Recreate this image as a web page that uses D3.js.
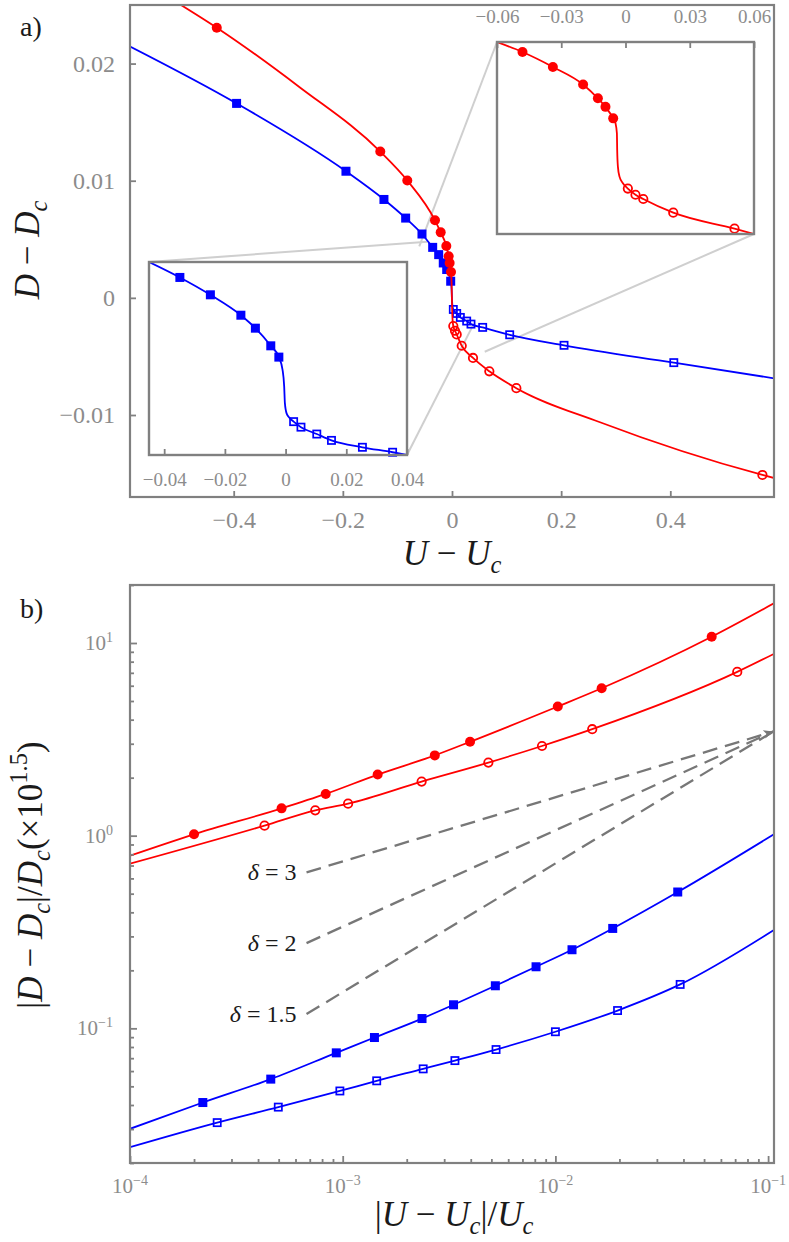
<!DOCTYPE html>
<html lang="en">
<head>
<meta charset="utf-8">
<title>D - Dc against U - Uc</title>
<script src="https://cdnjs.cloudflare.com/ajax/libs/d3/7.8.5/d3.min.js"></script>
<style>
  html, body { margin: 0; padding: 0; background: #fff; }
  svg { display: block; }
  svg text { font-family: "Liberation Serif", "DejaVu Serif", "Times New Roman", Times, serif; }
</style>
</head>
<body>
<div id="chart"></div>
<script>
// ---------- panel a) : D - Dc against U - Uc ----------
var aXDomain = [-0.59, 0.59];
var aYDomain = [-0.017, 0.025];
var aXTicks = [-0.4, -0.2, 0, 0.2, 0.4];
var aYTicks = [-0.01, 0, 0.01, 0.02];

var aRedFilled = [[-0.431, 0.02306], [-0.1314, 0.01249], [-0.0819, 0.01002], [-0.0312, 0.00662],
                  [-0.0207, 0.00559], [-0.0104, 0.00443], [-0.0061, 0.00355], [-0.0043, 0.00298], [-0.0018, 0.00221]];
var aRedOpen = [[0.0024, -0.00241], [0.0055, -0.00281], [0.0086, -0.00312], [0.0178, -0.00409],
                [0.0385, -0.00513], [0.0684, -0.00627], [0.1179, -0.00771], [0.5688, -0.01512]];
var aRedFitExtra = [[-0.50, 0.0251], [-0.2786, 0.01796], [-0.0008, 0.0013], [0.0002, -0.0009],
                    [0.0011, -0.0019], [0.27, -0.0106], [0.60, -0.0155]];

var aBlueFilled = [[-0.3947, 0.0166], [-0.1943, 0.01081], [-0.1247, 0.0084], [-0.0849, 0.00681], [-0.055, 0.00545],
                   [-0.0354, 0.00431], [-0.0244, 0.00369], [-0.016, 0.00298], [-0.0097, 0.00242], [-0.0024, 0.00142]];
var aBlueOpen = [[0.0024, -0.00099], [0.0086, -0.00133], [0.0153, -0.00167], [0.0269, -0.00198], [0.0348, -0.00224],
                 [0.0562, -0.00252], [0.1057, -0.00315], [0.2053, -0.00405], [0.4064, -0.00553]];
var aBlueFitExtra = [[-0.60, 0.0217], [-0.0009, 0.0009], [0.0001, -0.0003], [0.0012, -0.0008], [0.60, -0.00694]];

// inset (top right), red branch near the transition
var insRedXDomain = [-0.06, 0.06];
var insRedYDomain = [-0.0046, 0.0044];
var insRedTicks = [-0.06, -0.03, 0, 0.03, 0.06];
var insRedFilled = [[-0.0481, 0.00393], [-0.0339, 0.00323], [-0.0198, 0.00241], [-0.0129, 0.00176],
                    [-0.00935, 0.00136], [-0.00575, 0.00082]];
var insRedOpen = [[0.0011, -0.00247], [0.00467, -0.00276], [0.0083, -0.00296], [0.0223, -0.0036], [0.0509, -0.00435]];
var insRedFitExtra = [[-0.06, 0.0044], [-0.00467, 0.00059], [-0.00402, 0.00012], [-0.00388, -0.00066],
                      [-0.00355, -0.00144], [-0.0028, -0.00191], [-0.00121, -0.00222], [0.06, -0.0046]];

// inset (bottom left), blue branch near the transition
var insBlueXDomain = [-0.045, 0.04];
var insBlueYDomain = [-0.0022, 0.0048];
var insBlueTicks = [-0.04, -0.02, 0, 0.02, 0.04];
var insBlueFilled = [[-0.03483, 0.00424], [-0.02478, 0.00361], [-0.01473, 0.00287], [-0.00995, 0.0024],
                     [-0.00488, 0.00176], [-0.00222, 0.00135]];
var insBlueOpen = [[0.00265, -0.00099], [0.00507, -0.00119], [0.01028, -0.00144], [0.01512, -0.00167],
                   [0.02531, -0.00192], [0.03526, -0.0021]];
var insBlueFitExtra = [[-0.045, 0.0048], [-0.001, 0.00089], [-0.00046, 0.00028], [-0.00023, -0.00032],
                       [0.00033, -0.00069], [0.00143, -0.00087], [0.04, -0.0022]];

// ---------- panel b) : log-log ----------
var bXDomain = [1e-4, 0.1066];
var bYDomain = [0.02, 20];
var bRedFilled = [[2.0e-4, 1.016], [5.16e-4, 1.386], [8.32e-4, 1.647], [1.46e-3, 2.075], [2.71e-3, 2.61],
                  [3.97e-3, 3.07], [1.026e-2, 4.68], [1.65e-2, 5.82], [5.43e-2, 10.77]];
var bRedOpen = [[4.29e-4, 1.127], [7.43e-4, 1.353], [1.06e-3, 1.466], [2.35e-3, 1.908], [4.84e-3, 2.394],
                [8.65e-3, 2.92], [1.49e-2, 3.57], [7.16e-2, 7.08]];
var bBlueFilled = [[2.2e-4, 0.0412], [4.59e-4, 0.0545], [9.33e-4, 0.0746], [1.41e-3, 0.0896], [2.36e-3, 0.1124],
                   [3.32e-3, 0.1325], [5.22e-3, 0.1663], [8.11e-3, 0.2087], [1.197e-2, 0.2558], [1.86e-2, 0.330], [3.76e-2, 0.510]];
var bBlueOpen = [[2.57e-4, 0.0324], [4.98e-4, 0.039], [9.7e-4, 0.0473], [1.445e-3, 0.0534], [2.39e-3, 0.0616],
                 [3.37e-3, 0.068], [5.26e-3, 0.0776], [1.0e-2, 0.096], [1.96e-2, 0.1237], [3.86e-2, 0.169]];
var bRedFilledEnds = [[1e-4, 0.787], [0.107, 16.1]];
var bRedOpenEnds = [[1e-4, 0.715], [0.107, 8.8]];
var bBlueFilledEnds = [[1e-4, 0.0301], [0.107, 1.02]];
var bBlueOpenEnds = [[1e-4, 0.02415], [0.107, 0.325]];

// dashed guides, slope 1/delta
var deltas = [3, 2, 1.5];
var guideStartX = 6.76e-4;
var guideStartY = [0.645, 0.277, 0.1186];
var guideEnd = [0.1058, 3.47];

// ---------- drawing ----------
var frameGrey = "#808080", tickGrey = "#8c8c8c", ink = "#1a1a1a";
var red = "#ff0000", blue = "#0000ff";

var svg = d3.select("#chart").append("svg")
    .attr("width", 789).attr("height", 1242);
var defs = svg.append("defs");

var aBox = {l: 130, t: 5, r: 774, b: 497};
var bBox = {l: 130, t: 585, r: 774, b: 1163};
var inRed = {l: 497, t: 42, r: 754, b: 234};
var inBlue = {l: 149, t: 262, r: 407, b: 455};

function clip(id, box) {
    defs.append("clipPath").attr("id", id).append("rect")
        .attr("x", box.l).attr("y", box.t).attr("width", box.r - box.l).attr("height", box.b - box.t);
    return "url(#" + id + ")";
}

function byX(a, b) { return a[0] - b[0]; }

// math-like label built from tspans
function mathText(g, parts, size) {
    var t = g.append("text").attr("font-size", size).attr("fill", ink);
    var shift = 0;
    parts.forEach(function(p) {
        var s = t.append("tspan").text(p.t);
        if (p.i) s.attr("font-style", "italic");
        var target = p.sub ? 0.22 * size : (p.sup ? -0.42 * size : 0);
        if (target !== shift) { s.attr("dy", target - shift); shift = target; }
        if (p.sub || p.sup) s.attr("font-size", size * 0.7);
    });
    return t;
}

function drawSeries(g, x, y, fit, filled, open, color, shape, clipUrl) {
    var line = d3.line().x(function(d){ return x(d[0]); }).y(function(d){ return y(d[1]); })
        .curve(d3.curveMonotoneX);
    g.append("path").datum(fit).attr("d", line)
        .attr("fill", "none").attr("stroke", color).attr("stroke-width", 1.8)
        .attr("clip-path", clipUrl);
    if (shape === "circle") {
        g.selectAll(null).data(filled).enter().append("circle")
            .attr("cx", function(d){ return x(d[0]); }).attr("cy", function(d){ return y(d[1]); })
            .attr("r", 5).attr("fill", color);
        g.selectAll(null).data(open).enter().append("circle")
            .attr("cx", function(d){ return x(d[0]); }).attr("cy", function(d){ return y(d[1]); })
            .attr("r", 4.2).attr("fill", "none").attr("stroke", color).attr("stroke-width", 1.8);
    } else {
        g.selectAll(null).data(filled).enter().append("rect")
            .attr("x", function(d){ return x(d[0]) - 4.5; }).attr("y", function(d){ return y(d[1]) - 4.5; })
            .attr("width", 9).attr("height", 9).attr("fill", color);
        g.selectAll(null).data(open).enter().append("rect")
            .attr("x", function(d){ return x(d[0]) - 3.6; }).attr("y", function(d){ return y(d[1]) - 3.6; })
            .attr("width", 7.2).attr("height", 7.2).attr("fill", "none").attr("stroke", color).attr("stroke-width", 1.7);
    }
}

function styleAxis(g, size) {
    g.attr("font-family", null);
    g.select(".domain").remove();
    g.selectAll(".tick line").attr("stroke", frameGrey).attr("stroke-width", 1.8);
    g.selectAll(".tick text").attr("fill", tickGrey).attr("font-size", size);
}

var fmt = d3.format("~g");

// ===== panel a =====
var xA = d3.scaleLinear().domain(aXDomain).range([aBox.l, aBox.r]);
var yA = d3.scaleLinear().domain(aYDomain).range([aBox.b, aBox.t]);
var clipA = clip("clipA", aBox);

var gA = svg.append("g");

// zoom connector lines
var xIR = d3.scaleLinear().domain(insRedXDomain).range([inRed.l, inRed.r]);
var yIR = d3.scaleLinear().domain(insRedYDomain).range([inRed.b, inRed.t]);
var xIB = d3.scaleLinear().domain(insBlueXDomain).range([inBlue.l, inBlue.r]);
var yIB = d3.scaleLinear().domain(insBlueYDomain).range([inBlue.b, inBlue.t]);

var connectors = [
    [xA(insRedXDomain[0]), yA(insRedYDomain[1]), inRed.l, inRed.t],
    [xA(insRedXDomain[1]), yA(insRedYDomain[0]), inRed.r, inRed.b],
    [xA(insBlueXDomain[0]), yA(insBlueYDomain[1]), inBlue.l, inBlue.t],
    [xA(insBlueXDomain[1]), yA(insBlueYDomain[0]), inBlue.r, inBlue.b]
];
gA.selectAll(null).data(connectors).enter().append("line")
    .attr("x1", function(d){ return d[0]; }).attr("y1", function(d){ return d[1]; })
    .attr("x2", function(d){ return d[2]; }).attr("y2", function(d){ return d[3]; })
    .attr("stroke", "#cfcfcf").attr("stroke-width", 2);

drawSeries(gA, xA, yA, aBlueFilled.concat(aBlueOpen, aBlueFitExtra).sort(byX),
    aBlueFilled, aBlueOpen, blue, "square", clipA);
drawSeries(gA, xA, yA, aRedFilled.concat(aRedOpen, aRedFitExtra).sort(byX),
    aRedFilled, aRedOpen, red, "circle", clipA);

var axYA = gA.append("g").attr("transform", "translate(" + aBox.l + ",0)")
    .call(d3.axisLeft(yA).tickValues(aYTicks).tickSize(-6).tickPadding(15).tickFormat(fmt));
styleAxis(axYA, 24);
var axXA = gA.append("g").attr("transform", "translate(0," + aBox.b + ")")
    .call(d3.axisBottom(xA).tickValues(aXTicks).tickSize(-6).tickPadding(14).tickFormat(fmt));
styleAxis(axXA, 24);

gA.append("rect").attr("x", aBox.l).attr("y", aBox.t)
    .attr("width", aBox.r - aBox.l).attr("height", aBox.b - aBox.t)
    .attr("fill", "none").attr("stroke", frameGrey).attr("stroke-width", 2.2);

// inset red
var gIR = svg.append("g");
gIR.append("rect").attr("x", inRed.l).attr("y", inRed.t)
    .attr("width", inRed.r - inRed.l).attr("height", inRed.b - inRed.t).attr("fill", "#fff");
drawSeries(gIR, xIR, yIR, insRedFilled.concat(insRedOpen, insRedFitExtra).sort(byX),
    insRedFilled, insRedOpen, red, "circle", clip("clipIR", inRed));
var axIR = gIR.append("g").attr("transform", "translate(0," + inRed.t + ")")
    .call(d3.axisTop(xIR).tickValues(insRedTicks).tickSize(-6).tickPadding(19).tickFormat(fmt));
styleAxis(axIR, 19);
gIR.append("rect").attr("x", inRed.l).attr("y", inRed.t)
    .attr("width", inRed.r - inRed.l).attr("height", inRed.b - inRed.t)
    .attr("fill", "none").attr("stroke", frameGrey).attr("stroke-width", 2.4);

// inset blue
var gIB = svg.append("g");
gIB.append("rect").attr("x", inBlue.l).attr("y", inBlue.t)
    .attr("width", inBlue.r - inBlue.l).attr("height", inBlue.b - inBlue.t).attr("fill", "#fff");
drawSeries(gIB, xIB, yIB, insBlueFilled.concat(insBlueOpen, insBlueFitExtra).sort(byX),
    insBlueFilled, insBlueOpen, blue, "square", clip("clipIB", inBlue));
var axIB = gIB.append("g").attr("transform", "translate(0," + inBlue.b + ")")
    .call(d3.axisBottom(xIB).tickValues(insBlueTicks).tickSize(-6).tickPadding(18).tickFormat(fmt));
styleAxis(axIB, 19);
gIB.append("rect").attr("x", inBlue.l).attr("y", inBlue.t)
    .attr("width", inBlue.r - inBlue.l).attr("height", inBlue.b - inBlue.t)
    .attr("fill", "none").attr("stroke", frameGrey).attr("stroke-width", 2.4);

// labels panel a
svg.append("text").attr("x", 20).attr("y", 36).attr("font-size", 28).attr("fill", ink).text("a)");
mathText(svg.append("g").attr("transform", "translate(452,565)"),
    [{t: "U", i: true}, {t: " \u2212 "}, {t: "U", i: true}, {t: "c", i: true, sub: true}], 35)
    .attr("text-anchor", "middle");
mathText(svg.append("g").attr("transform", "translate(39,250) rotate(-90)"),
    [{t: "D", i: true}, {t: " \u2212 "}, {t: "D", i: true}, {t: "c", i: true, sub: true}], 35)
    .attr("text-anchor", "middle");

// ===== panel b =====
var xB = d3.scaleLog().domain(bXDomain).range([bBox.l, bBox.r]);
var yB = d3.scaleLog().domain(bYDomain).range([bBox.b, bBox.t]);
var clipB = clip("clipB", bBox);
var gB = svg.append("g");

function isDecade(v) { var l = Math.log10(v); return Math.abs(l - Math.round(l)) < 1e-6; }
var xMajor = xB.ticks().filter(isDecade), xMinor = xB.ticks().filter(function(v){ return !isDecade(v); });
var yMajor = yB.ticks().filter(isDecade), yMinor = yB.ticks().filter(function(v){ return !isDecade(v); });

// dashed power-law guides
defs.append("marker").attr("id", "arrow").attr("viewBox", "0 0 10 10")
    .attr("refX", 10).attr("refY", 5).attr("markerWidth", 8).attr("markerHeight", 4.2)
    .attr("markerUnits", "strokeWidth").attr("orient", "auto")
  .append("path").attr("d", "M0,0.5 L10,5 L0,9.5 L2.5,5 Z").attr("fill", "#777");

var guides = deltas.map(function(dl, i) {
    return {delta: dl, pts: [[guideStartX, guideStartY[i]], guideEnd]};
});
var guideLine = d3.line().x(function(d){ return xB(d[0]); }).y(function(d){ return yB(d[1]); });
gB.selectAll(null).data(guides).enter().append("path")
    .attr("d", function(d){ return guideLine(d.pts); })
    .attr("fill", "none").attr("stroke", "#777").attr("stroke-width", 2.3)
    .attr("stroke-dasharray", "15,8")
    .attr("marker-end", function(d, i){ return i === 0 ? "url(#arrow)" : null; });
guides.forEach(function(d) {
    var t = gB.append("text").attr("x", xB(d.pts[0][0]) - 10).attr("y", yB(d.pts[0][1]))
        .attr("dy", "0.33em").attr("text-anchor", "end").attr("font-size", 24).attr("fill", ink);
    t.append("tspan").attr("font-style", "italic").text("\u03b4");
    t.append("tspan").text(" = " + d.delta);
});

drawSeries(gB, xB, yB, bRedFilled.concat(bRedFilledEnds).sort(byX), bRedFilled, [], red, "circle", clipB);
drawSeries(gB, xB, yB, bRedOpen.concat(bRedOpenEnds).sort(byX), [], bRedOpen, red, "circle", clipB);
drawSeries(gB, xB, yB, bBlueFilled.concat(bBlueFilledEnds).sort(byX), bBlueFilled, [], blue, "square", clipB);
drawSeries(gB, xB, yB, bBlueOpen.concat(bBlueOpenEnds).sort(byX), [], bBlueOpen, blue, "square", clipB);

// log axes: major and minor ticks
[[xMajor, -7], [xMinor, -4]].forEach(function(s) {
    styleAxis(gB.append("g").attr("transform", "translate(0," + bBox.b + ")")
        .call(d3.axisBottom(xB).tickValues(s[0]).tickSize(s[1]).tickFormat("")), 20);
});
[[yMajor, -7], [yMinor, -4]].forEach(function(s) {
    styleAxis(gB.append("g").attr("transform", "translate(" + bBox.l + ",0)")
        .call(d3.axisLeft(yB).tickValues(s[0]).tickSize(s[1]).tickFormat("")), 20);
});
function powLabel(t, v) {
    t.append("tspan").text("10");
    t.append("tspan").attr("dy", -8).attr("font-size", 14).text(fmt(Math.round(Math.log10(v))));
}
yMajor.forEach(function(v) {
    var t = gB.append("text").attr("x", bBox.l - 17).attr("y", yB(v) + 7)
        .attr("text-anchor", "end").attr("font-size", 21).attr("fill", tickGrey);
    powLabel(t, v);
});
xMajor.forEach(function(v) {
    var t = gB.append("text").attr("x", xB(v)).attr("y", bBox.b + 30)
        .attr("text-anchor", "middle").attr("font-size", 21).attr("fill", tickGrey);
    powLabel(t, v);
});

gB.append("rect").attr("x", bBox.l).attr("y", bBox.t)
    .attr("width", bBox.r - bBox.l).attr("height", bBox.b - bBox.t)
    .attr("fill", "none").attr("stroke", frameGrey).attr("stroke-width", 2.2);

svg.append("text").attr("x", 20).attr("y", 618).attr("font-size", 28).attr("fill", ink).text("b)");
mathText(svg.append("g").attr("transform", "translate(454,1226)"),
    [{t: "|"}, {t: "U", i: true}, {t: " \u2212 "}, {t: "U", i: true}, {t: "c", i: true, sub: true},
     {t: "|/"}, {t: "U", i: true}, {t: "c", i: true, sub: true}], 35)
    .attr("text-anchor", "middle");
mathText(svg.append("g").attr("transform", "translate(42,875) rotate(-90)"),
    [{t: "|"}, {t: "D", i: true}, {t: " \u2212 "}, {t: "D", i: true}, {t: "c", i: true, sub: true},
     {t: "|/"}, {t: "D", i: true}, {t: "c", i: true, sub: true}, {t: "(\u00d710"}, {t: "1.5", sup: true}, {t: ")"}], 35)
    .attr("text-anchor", "middle");
</script>
</body>
</html>
